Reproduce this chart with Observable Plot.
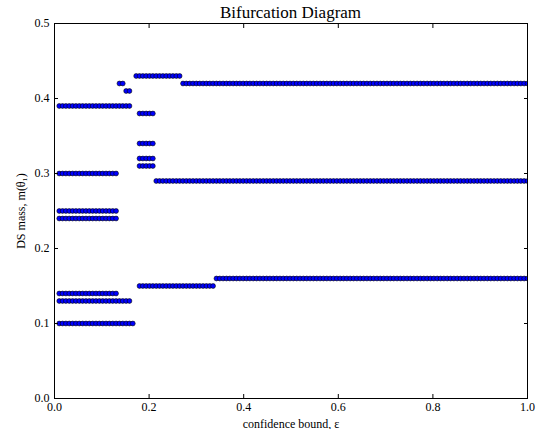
<!DOCTYPE html>
<html>
<head>
<meta charset="utf-8">
<script src="https://cdn.jsdelivr.net/npm/d3@7"></script>
<script src="https://cdn.jsdelivr.net/npm/@observablehq/plot@0.6"></script>
<style>
  html, body { margin: 0; padding: 0; background: #fff; }
  #wrap { position: relative; width: 540px; height: 429px; overflow: hidden; }
  #title {
    position: absolute; top: 4px; left: 54px; width: 473px;
    font-family: "Liberation Serif", "DejaVu Serif", serif;
    font-size: 17px; line-height: 17px; text-align: center; color: #000;
  }
</style>
</head>
<body>
<div id="wrap">
  <div id="chart"></div>
  <div id="title">Bifurcation Diagram</div>
</div>
<script>
// Confidence-bound sweep (x sampling of the diagram)
const epsFirst = 0.01;
const epsLast = 1.0;
const epsCount = 141;

// Branches: DS mass level and the ε range where it appears
const branchMass = [0.39, 0.30, 0.25, 0.24, 0.14, 0.13, 0.10, 0.42, 0.41, 0.43, 0.42, 0.38, 0.34, 0.32, 0.31, 0.29, 0.15, 0.16];
const branchFrom = [0.00, 0.00, 0.00, 0.00, 0.00, 0.00, 0.00, 0.134, 0.148, 0.169, 0.268, 0.176, 0.176, 0.176, 0.176, 0.212, 0.176, 0.339];
const branchTo   = [0.162, 0.134, 0.134, 0.134, 0.134, 0.162, 0.169, 0.148, 0.162, 0.268, 1.0, 0.212, 0.212, 0.212, 0.212, 1.0, 0.339, 1.0];

// Tick labels
const xTicks = [0.0, 0.2, 0.4, 0.6, 0.8, 1.0];
const yTicks = [0.0, 0.1, 0.2, 0.3, 0.4, 0.5];

const sweep = d3.range(epsCount).map(i => epsFirst + i * (epsLast - epsFirst) / (epsCount - 1));
const points = [];
branchMass.forEach((m, b) => {
  sweep.forEach(e => {
    if (e >= branchFrom[b] - 1e-9 && e <= branchTo[b] + 1e-9) points.push({eps: e, m});
  });
});

const fmt = d3.format(".1f");
const chart = Plot.plot({
  width: 540,
  height: 429,
  marginLeft: 54,
  marginRight: 13,
  marginTop: 23,
  marginBottom: 31,
  x: {domain: [0, 1]},
  y: {domain: [0, 0.5]},
  style: {fontFamily: "'Liberation Serif', 'DejaVu Serif', serif", fontSize: "12px", color: "#000", background: "#fff"},
  marks: [
    Plot.dot(points, {x: "eps", y: "m", r: 2.4, fill: "#0000ff", stroke: "#000", strokeWidth: 0.6, clip: true}),
    Plot.frame({stroke: "#000", strokeWidth: 1}),
    Plot.axisX(xTicks, {anchor: "bottom", tickSize: -4, tickPadding: 8, tickFormat: fmt, fontSize: 12,
      label: "confidence bound, ε", labelAnchor: "center", labelArrow: "none", labelOffset: 29}),
    Plot.axisX(xTicks, {anchor: "top", tickSize: -4, tickFormat: () => "", label: null}),
    Plot.axisY(yTicks, {anchor: "left", tickSize: -4, tickPadding: 9, tickFormat: fmt, fontSize: 12,
      label: "DS mass, m(θ₁)", labelAnchor: "center", labelArrow: "none", labelOffset: 38}),
    Plot.axisY(yTicks, {anchor: "right", tickSize: -4, tickFormat: () => "", label: null})
  ]
});
document.getElementById("chart").appendChild(chart);
</script>
</body>
</html>
